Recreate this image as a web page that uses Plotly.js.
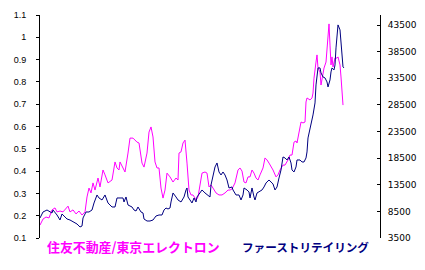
<!DOCTYPE html>
<html>
<head>
<meta charset="utf-8">
<script src="https://cdn.plot.ly/plotly-3.0.1.min.js"></script>
<style>html,body{margin:0;padding:0;background:#fff;}#chart{width:425px;height:270px;}</style>
</head>
<body>
<div id="chart"></div>
<script>
// Ratio series (left axis): 住友不動産/東京エレクトロン
const ratioT = [0,3,6,9,12,15,17,20,23,26,28,30,33,36,39,42,45,47,49,51,53,55,58,60,63,65,68,72,75,77,79,80,83,85,88,90,93,97,99,102,104,107,109,111,113,115,117,119,121,123,125,127,130,133,136,138,139,141,143,145,147,149,151,153,155,156,158,160,162,165,167,169,171,173,176,179,182,185,188,190,192,195,198,200,202,204,206,208,210,212,214,216,218,220,223,225,227,229,233,236,238,240,243,245,248,250,252,254,256,257,259,261,263,265,266,267,270,272,273,274,276,277,278,280,281,282,284,286,287,288,289,290,291,292,293,295,297,298,300,301,302,303];
const ratioV = [0.158,0.185,0.194,0.190,0.226,0.235,0.217,0.221,0.217,0.230,0.243,0.217,0.226,0.208,0.221,0.203,0.217,0.284,0.324,0.302,0.347,0.315,0.369,0.329,0.405,0.383,0.347,0.360,0.441,0.414,0.405,0.441,0.418,0.396,0.481,0.548,0.548,0.530,0.526,0.436,0.418,0.481,0.575,0.598,0.553,0.441,0.414,0.414,0.324,0.279,0.315,0.391,0.374,0.351,0.369,0.360,0.481,0.486,0.526,0.539,0.436,0.315,0.293,0.293,0.279,0.270,0.284,0.329,0.391,0.396,0.391,0.329,0.338,0.324,0.302,0.293,0.293,0.302,0.315,0.315,0.320,0.347,0.405,0.414,0.400,0.351,0.347,0.374,0.374,0.405,0.391,0.369,0.360,0.383,0.414,0.459,0.450,0.436,0.405,0.374,0.383,0.405,0.427,0.427,0.450,0.472,0.472,0.530,0.535,0.526,0.575,0.620,0.616,0.620,0.710,0.728,0.719,0.728,0.750,0.817,0.889,0.921,0.862,0.844,0.786,0.817,0.862,0.889,0.952,0.997,1.060,0.965,0.876,0.912,0.867,0.907,0.907,0.912,0.876,0.822,0.741,0.696];

// Price series (right axis): ファーストリテイリング
const priceT = [0,3,7,10,12,13,17,20,22,25,27,30,33,37,40,42,43,46,49,52,54,57,59,62,65,68,72,75,77,80,83,84,86,88,92,94,96,98,101,103,104,107,110,113,116,119,122,124,126,128,130,131,133,136,138,141,144,146,147,148,150,152,154,156,157,160,162,165,167,170,171,173,175,177,179,181,183,185,187,189,192,193,196,199,201,203,204,207,209,210,212,214,215,217,219,222,224,226,229,231,233,235,237,239,241,243,245,247,249,251,252,254,256,257,260,262,264,266,267,268,270,271,273,275,276,278,280,281,283,285,287,288,290,291,292,294,295,296,297,298,300,301,302,303,304];
const priceV = [7259,8387,8763,8387,8199,8763,7823,6883,8011,7447,7071,6883,6507,6132,5568,5756,7259,8387,8387,8763,10079,11583,11019,10643,11583,10079,9327,9327,11019,11019,11019,10267,11207,9703,9327,8763,8575,9327,8387,8199,7071,6695,6695,6883,7635,7823,7823,8763,9139,8951,9139,10267,11959,11207,10643,10267,11207,12523,12899,11207,10643,10079,11019,10267,11207,11959,12523,11959,11583,11207,13462,15342,16846,17598,15906,15342,15906,15342,14402,12899,13087,12523,11583,11583,10643,11583,12899,12523,12147,11019,12899,11207,10643,11959,12147,12523,13087,13838,14402,14026,13650,12523,13087,14778,16282,18726,18538,18162,18726,17598,16282,15906,16846,18162,18162,17786,17786,18538,19666,22297,23801,24741,26621,28876,32260,35455,35455,34515,33763,33575,32823,31883,33199,34703,35455,35079,36019,39214,41658,43538,42598,40342,37898,35643,35455];

const leftTicks = [0.1,0.2,0.3,0.4,0.5,0.6,0.7,0.8,0.9,1,1.1];
const rightTicks = [3500,8500,13500,18500,23500,28500,33500,38500,43500];
const labelA = "住友不動産/東京エレクトロン";
const labelB = "ファーストリテイリング";

const traces = [
  {x: ratioT, y: ratioV, type: 'scatter', mode: 'lines', line: {color: '#FF00FF', width: 1}, yaxis: 'y', hoverinfo: 'skip'},
  {x: priceT, y: priceV, type: 'scatter', mode: 'lines', line: {color: '#000080', width: 1}, yaxis: 'y2', hoverinfo: 'skip'}
];

const layout = {
  width: 425, height: 270,
  margin: {l: 40, r: 45, t: 15, b: 32, pad: 0},
  paper_bgcolor: '#ffffff', plot_bgcolor: '#ffffff',
  showlegend: false,
  xaxis: {visible: false, range: [0, 340], fixedrange: true},
  yaxis: {
    range: [0.1, 1.1], tickvals: leftTicks, ticktext: leftTicks.map(String),
    showgrid: false, zeroline: false, showline: true, linecolor: '#000', linewidth: 1,
    ticks: 'outside', ticklen: 3, tickcolor: '#000', ticklabelstandoff: 8,
    tickfont: {family: 'Liberation Sans, Arial, sans-serif', size: 9, color: '#000'}
  },
  yaxis2: {
    overlaying: 'y', side: 'right', anchor: 'x',
    range: [3500, 45400], tickvals: rightTicks, ticktext: rightTicks.map(String),
    showgrid: false, zeroline: false, showline: true, linecolor: '#000', linewidth: 1,
    ticks: 'inside', ticklen: 3, tickcolor: '#000', ticklabelstandoff: 5,
    tickfont: {family: 'DejaVu Sans, sans-serif', size: 9, color: '#000'}
  },
  annotations: [
    {text: '<b>' + labelA + '</b>', xref: 'paper', yref: 'paper', x: 0.0147, y: -0.04, xanchor: 'left', yanchor: 'middle', showarrow: false,
     font: {family: 'Noto Sans CJK JP, sans-serif', size: 12.9, color: '#FF00FF'}},
    {text: '<b>' + labelB + '</b>', xref: 'paper', yref: 'paper', x: 0.588, y: -0.04, xanchor: 'left', yanchor: 'middle', showarrow: false,
     font: {family: 'Noto Sans CJK JP, sans-serif', size: 11.6, color: '#000080'}}
  ]
};

Plotly.newPlot('chart', traces, layout, {staticPlot: true, displayModeBar: false});
</script>
</body>
</html>
